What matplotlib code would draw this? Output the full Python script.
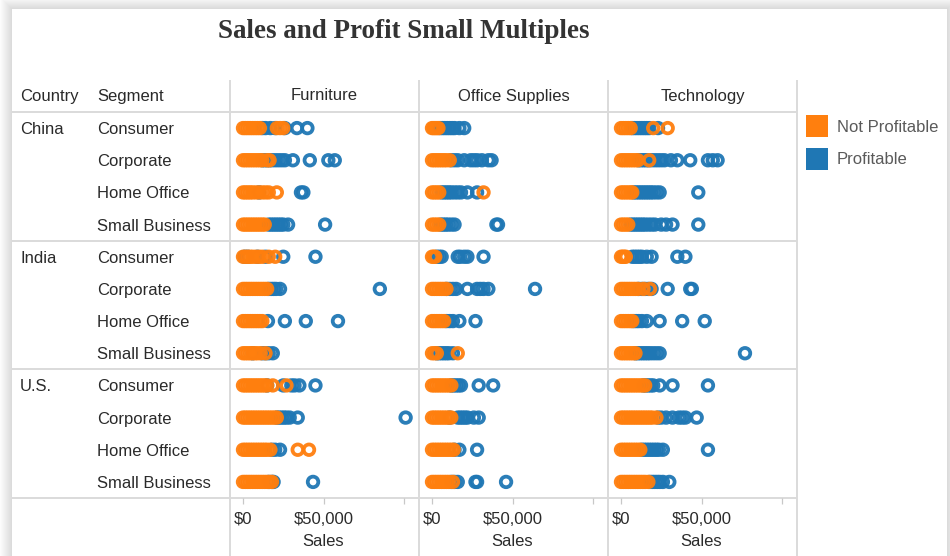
import matplotlib
matplotlib.use("Agg")
import matplotlib.pyplot as plt
from matplotlib.patches import Rectangle

plt.rcParams['font.family'] = ['Liberation Sans', 'DejaVu Sans']

# ---------------- data (sales values per segment: Consumer, Corporate, Home Office, Small Business)
countries = ["China", "India", "U.S."]
segments = ["Consumer", "Corporate", "Home Office", "Small Business"]
categories = ["Furniture", "Office Supplies", "Technology"]
statuses = ["Not Profitable", "Profitable"]
tick_values = [0, 50000, 100000]
tick_labels = ["$0", "$50,000", ""]

CHINA_FURN_LOSS = [[0, 1500, 3000, 4500, 6000, 7500, 9000, 10500, 21000, 23000, 25000],
                   [0, 1500, 3000, 4500, 6000, 7500, 9000, 10500, 12000, 15000, 16500],
                   [0, 1500, 3000, 4500, 6000, 8000, 10000, 12000, 14000, 16000, 21000],
                   [0, 1500, 3000, 4500, 6000, 7500, 9000, 10500, 12000, 13500]]
CHINA_FURN_PROFIT = [[12000, 14000, 17000, 20000, 26000, 33500, 40000],
                     [12000, 13500, 15000, 16500, 18000, 20000, 22000, 24000, 26000, 31000, 41500, 53000, 57000],
                     [10000, 36000, 37500],
                     [16000, 17500, 19000, 20500, 22000, 23500, 25000, 28000, 51000]]
CHINA_OFF_LOSS = [[0, 1000, 2000, 3000, 4000],
                  [0, 1500, 3000, 4500, 6000, 7500, 9000, 11000],
                  [0, 1500, 3000, 4500, 32000],
                  [0, 1500, 3000, 4500]]
CHINA_OFF_PROFIT = [[5000, 6500, 8000, 9500, 11000, 12500, 14000, 17000, 20000],
                    [12000, 14000, 16000, 20000, 24000, 26000, 28000, 31000, 35000, 37000],
                    [6000, 7500, 9000, 10500, 12000, 14000, 16000, 18000, 22000, 28000],
                    [5500, 7000, 8500, 10000, 12000, 14000, 40000, 41000]]
CHINA_TECH_LOSS = [[0, 1500, 3000, 4500, 6000, 20000, 29000],
                   [0, 1500, 3000, 4500, 6000, 7500, 9000, 10500, 17500],
                   [0, 1500, 3000, 4500, 6000, 7000],
                   [0, 1500, 3000, 4500]]
CHINA_TECH_PROFIT = [[7000, 8500, 10000, 11500, 13000, 14500, 16000, 17500, 23000],
                     [11000, 12500, 14000, 15500, 17000, 19000, 21000, 23000, 25000, 27000, 31000, 35000, 43000, 54000, 57000, 60000],
                     [8000, 9500, 11000, 12500, 14000, 15500, 17000, 18500, 20000, 22000, 24000, 48000],
                     [6000, 7500, 9000, 10500, 12000, 13500, 15000, 17000, 19000, 21000, 25000, 28000, 32000, 48000]]

INDIA_FURN_LOSS = [[0, 1500, 3000, 4500, 6000, 8000, 10000, 12000, 16000, 20000],
                   [0, 1500, 3000, 4500, 6000, 7500, 9000, 10500, 12000, 13500, 15000],
                   [0, 1500, 3000, 4500, 6000, 7500, 9000, 10500, 12000],
                   [0, 1500, 3000, 4500, 6000, 7500, 9000, 11000, 14000]]
INDIA_FURN_PROFIT = [[1000, 3000, 9000, 14000, 25000, 45000],
                     [16000, 17500, 19000, 20500, 23000, 85000],
                     [15500, 26000, 39000, 59000],
                     [6000, 12000, 14000, 16000, 18500]]
INDIA_OFF_LOSS = [[0, 1000, 2000],
                  [0, 1500, 3000, 4500, 6000, 7500, 9000],
                  [0, 1500, 3000, 4500, 6000, 7500],
                  [0, 1500, 3000, 16000]]
INDIA_OFF_PROFIT = [[3000, 4500, 6000, 16000, 17500, 20000, 22000, 32000],
                    [9000, 11000, 13000, 15000, 22000, 28000, 30000, 32000, 35000, 64000],
                    [9000, 11000, 13000, 17000, 27000],
                    [3000, 4500, 6000, 7500, 9000, 10500, 13000]]
INDIA_TECH_LOSS = [[0, 1000, 2000, 3000],
                   [0, 1500, 3000, 4500, 6000, 7500, 9000, 10500, 14000, 18000],
                   [0, 1500, 3000, 4500, 6000, 7000],
                   [0, 1500, 3000, 4500, 6000, 7500, 9000]]
INDIA_TECH_PROFIT = [[7000, 8500, 10000, 11500, 13000, 16000, 19000, 35000, 40000],
                     [11000, 13000, 15000, 17000, 19000, 29000, 43000, 44000],
                     [8000, 9500, 11000, 13000, 16000, 24000, 38000, 52000],
                     [9000, 10500, 12000, 13500, 15000, 16500, 18000, 20000, 22000, 24000, 77000]]

US_FURN_LOSS = [[0, 1500, 3000, 4500, 6000, 7500, 9000, 10500, 12000, 13500, 15000, 18500, 27000],
                [0, 1500, 3000, 4500, 6000, 7500, 9000, 10500, 12000, 13500, 15000, 16500, 18000, 19500, 21000],
                [0, 1500, 3000, 4500, 6000, 7500, 9000, 10500, 12000, 13500, 15000, 17000, 34000, 41000],
                [0, 1500, 3000, 4500, 6000, 7500, 9000, 10500, 12000, 13500, 15000, 16500, 18000]]
US_FURN_PROFIT = [[15000, 25000, 30000, 32000, 35000, 45000],
                  [21000, 22500, 24000, 25500, 27000, 29000, 34000, 101000],
                  [18000, 20000, 23000],
                  [16000, 18000, 19000, 43500]]
US_OFF_LOSS = [[0, 1500, 3000, 4500, 6000, 7500, 9000, 10500, 12000],
               [0, 1500, 3000, 4500, 6000, 7500, 9000, 10500, 12000],
               [0, 1500, 3000, 4500, 6000, 7500, 9000, 10500, 12000, 13500],
               [0, 1500, 3000, 4500, 6000, 7500, 9000, 10500, 13000]]
US_OFF_PROFIT = [[12000, 13500, 15000, 16500, 18000, 29000, 38000],
                 [11000, 16000, 17500, 19000, 20500, 22000, 26000, 29000],
                 [14000, 17000, 28000],
                 [12000, 14000, 16000, 27000, 28000, 46000]]
US_TECH_LOSS = [[0, 1500, 3000, 4500, 6000, 7500, 9000, 10500, 12000, 13500, 15000],
                [0, 1500, 3000, 4500, 6000, 7500, 9000, 10500, 12000, 13500, 15000, 16500, 18000, 19500, 22000],
                [0, 1500, 3000, 4500, 6000, 7500, 9000, 10500, 12000],
                [0, 1500, 3000, 4500, 6000, 7500, 9000, 10500, 12000, 13500, 15000, 17000]]
US_TECH_PROFIT = [[14000, 15500, 17000, 18500, 20000, 24000, 32000, 54000],
                  [23000, 25000, 28000, 32000, 36000, 38000, 40000, 47000],
                  [13000, 14500, 16000, 17500, 19000, 20500, 22000, 23500, 26000, 54000],
                  [18000, 19500, 21000, 22500, 24000, 26000, 30000]]

LOSS = {
    ("China", "Furniture"): CHINA_FURN_LOSS, ("China", "Office Supplies"): CHINA_OFF_LOSS,
    ("China", "Technology"): CHINA_TECH_LOSS,
    ("India", "Furniture"): INDIA_FURN_LOSS, ("India", "Office Supplies"): INDIA_OFF_LOSS,
    ("India", "Technology"): INDIA_TECH_LOSS,
    ("U.S.", "Furniture"): US_FURN_LOSS, ("U.S.", "Office Supplies"): US_OFF_LOSS,
    ("U.S.", "Technology"): US_TECH_LOSS,
}
PROFIT = {
    ("China", "Furniture"): CHINA_FURN_PROFIT, ("China", "Office Supplies"): CHINA_OFF_PROFIT,
    ("China", "Technology"): CHINA_TECH_PROFIT,
    ("India", "Furniture"): INDIA_FURN_PROFIT, ("India", "Office Supplies"): INDIA_OFF_PROFIT,
    ("India", "Technology"): INDIA_TECH_PROFIT,
    ("U.S.", "Furniture"): US_FURN_PROFIT, ("U.S.", "Office Supplies"): US_OFF_PROFIT,
    ("U.S.", "Technology"): US_TECH_PROFIT,
}

ORANGE = "#FF7F0E"
BLUE = "#1F77B4"
LINE = "#dadada"
TXT = "#2a2a2a"

# ---------------- layout (pixels)
W, H = 950, 556
fig = plt.figure(figsize=(W / 100, H / 100), dpi=100)
fig.patch.set_facecolor("white")

bg = fig.add_axes([0, 0, 1, 1], zorder=0)
bg.set_xlim(0, W)
bg.set_ylim(H, 0)
bg.axis("off")

# card shadow + card
CX0, CY0, CX1 = 12, 9, 947
for i in range(1, 13):
    bg.add_patch(Rectangle((CX0 - i, CY0 - i), (CX1 - CX0) + 2 * i, H + 20,
                           facecolor="#000000", alpha=0.012, lw=0, zorder=0))
bg.add_patch(Rectangle((CX0, CY0), CX1 - CX0, H + 20, facecolor="white", lw=0, zorder=1))

PX_L, PX_W = 230, 189
TOP, HDR, BOT = 80, 112, 498
ROW_H = (BOT - HDR) / 12.0

# grid lines
for y in [HDR, HDR + 4 * ROW_H, HDR + 8 * ROW_H, BOT]:
    bg.plot([CX0, PX_L + 3 * PX_W], [y, y], color=LINE, lw=1.4, zorder=2, solid_capstyle="butt")
for k in range(4):
    x = PX_L + k * PX_W
    bg.plot([x, x], [TOP, H], color=LINE, lw=1.4, zorder=2, solid_capstyle="butt")

# title
title = bg.text(404, 31, "Sales and Profit Small Multiples", ha="center", va="center",
                fontsize=19, fontweight="bold", family=["Liberation Serif", "DejaVu Serif"],
                color="#333333", zorder=3)
fig.canvas.draw()
w = title.get_window_extent().width
title.set_fontsize(19 * 372.0 / w)

FS = 12
LY = 1.5   # small downward nudge for row labels
bg.text(20, 96, "Country", ha="left", va="center", fontsize=FS, color=TXT, zorder=3)
bg.text(97, 96, "Segment", ha="left", va="center", fontsize=FS, color=TXT, zorder=3)
for ci, c in enumerate(countries):
    y0 = HDR + (ci * 4 + 0.5) * ROW_H + LY
    bg.text(20, y0, c, ha="left", va="center", fontsize=FS, color=TXT, zorder=3)
    for si, s in enumerate(segments):
        bg.text(97, HDR + (ci * 4 + si + 0.5) * ROW_H + LY, s, ha="left", va="center",
                fontsize=FS, color=TXT, zorder=3)

# legend
bg.add_patch(Rectangle((806, 115), 22, 22, facecolor=ORANGE, lw=0, zorder=3))
bg.add_patch(Rectangle((806, 148), 22, 22, facecolor=BLUE, lw=0, zorder=3))
bg.text(837, 127, statuses[0], ha="left", va="center", fontsize=FS, color="#5a5a5a", zorder=3)
bg.text(837, 159, statuses[1], ha="left", va="center", fontsize=FS, color="#5a5a5a", zorder=3)

# panels
ZERO_OFF = 13          # pixel offset of $0 from panel left
PX_PER_50K = 80.5
xmin = -ZERO_OFF / PX_PER_50K * 50000
xmax = (PX_W - ZERO_OFF) / PX_PER_50K * 50000

for j, cat in enumerate(categories):
    x0 = PX_L + j * PX_W
    bg.text(x0 + PX_W / 2, 96, cat, ha="center", va="center", fontsize=FS, color=TXT, zorder=3)
    ax = fig.add_axes([x0 / W, 1 - BOT / H, PX_W / W, (BOT - HDR) / H], zorder=5)
    ax.set_facecolor("none")
    ax.set_xlim(xmin, xmax)
    ax.set_ylim(11.5, -0.5)
    for sp in ax.spines.values():
        sp.set_visible(False)
    ax.set_yticks([])
    ax.set_xticks(tick_values)
    ax.set_xticklabels(tick_labels)
    ax.tick_params(axis="x", direction="out", length=4.5, width=0.9, color="#c8c8c8",
                   pad=5.5, labelsize=FS, labelcolor=TXT)
    for ci, c in enumerate(countries):
        prof = PROFIT[(c, cat)]
        loss = LOSS[(c, cat)]
        for si in range(4):
            row = ci * 4 + si
            ax.scatter(prof[si], [row] * len(prof[si]), s=58, facecolors="none",
                       edgecolors=BLUE, linewidths=2.7, alpha=0.95, zorder=3, clip_on=False)
            ax.scatter(loss[si], [row] * len(loss[si]), s=58, facecolors="none",
                       edgecolors=ORANGE, linewidths=2.7, alpha=0.95, zorder=4, clip_on=False)
    bg.text(x0 + PX_W / 2 - 1, 541, "Sales", ha="center", va="center", fontsize=FS,
            color=TXT, zorder=3)

fig.savefig("out.png", dpi=100, facecolor="white")
